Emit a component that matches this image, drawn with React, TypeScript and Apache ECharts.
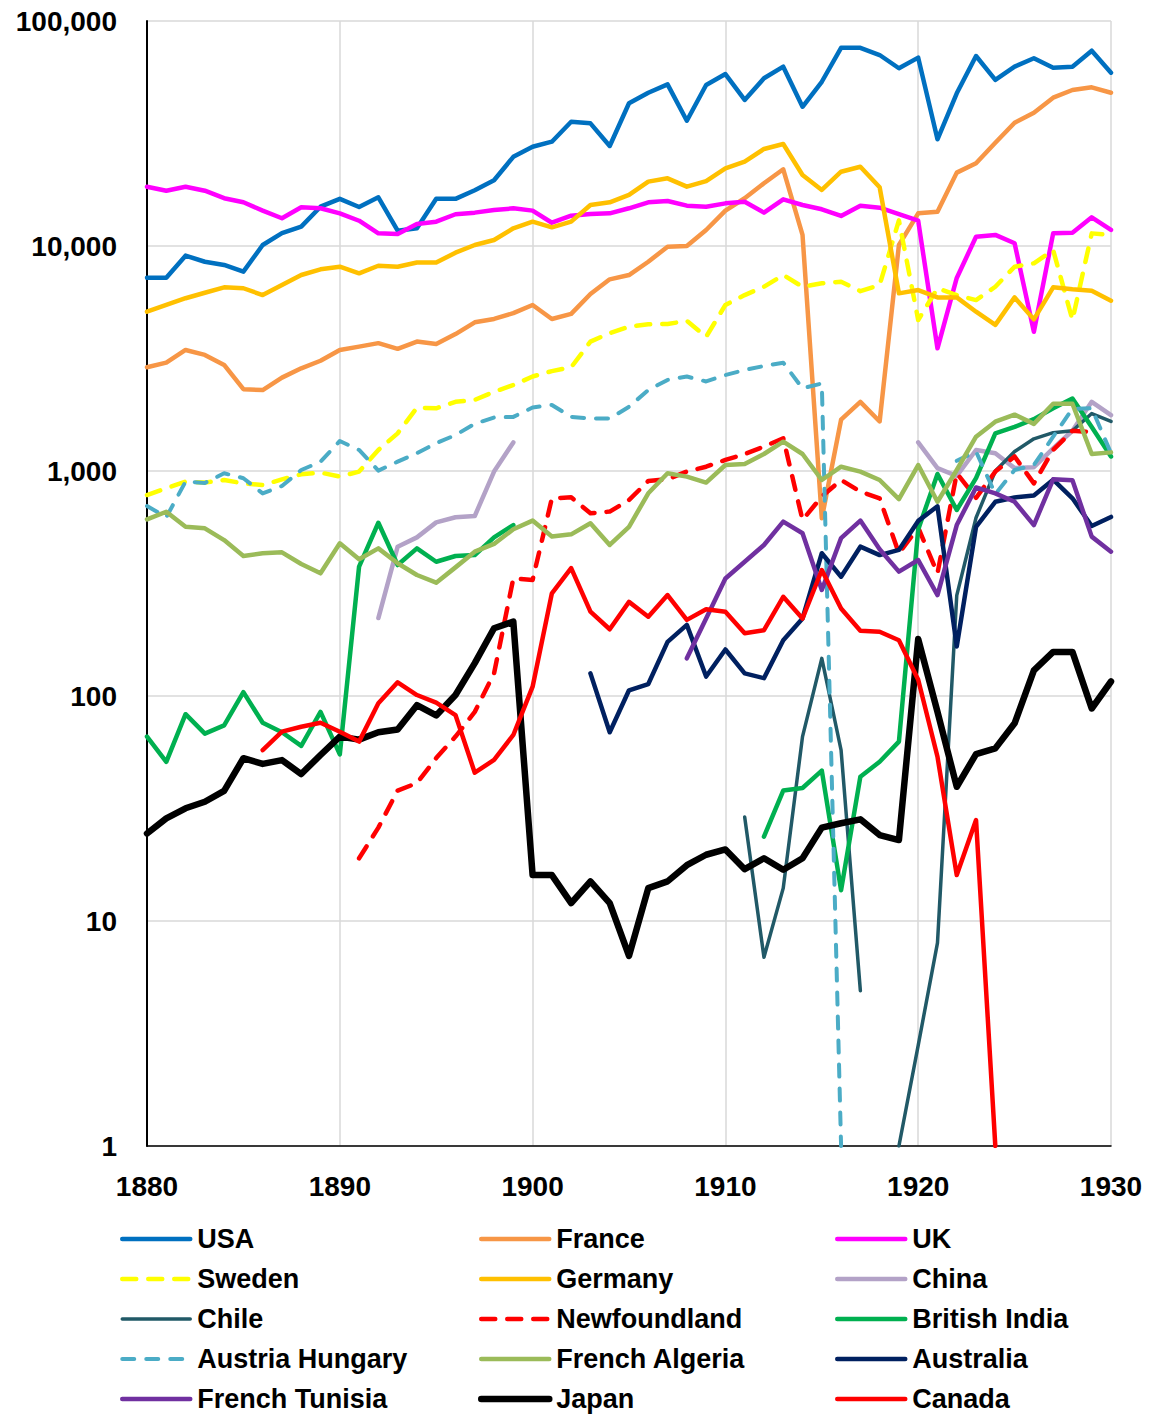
import React, { useEffect, useRef } from "react";
import * as echarts from "echarts";

// Years 1880..1930
const YEARS = [
  1880, 1881, 1882, 1883, 1884, 1885, 1886, 1887, 1888, 1889,
  1890, 1891, 1892, 1893, 1894, 1895, 1896, 1897, 1898, 1899,
  1900, 1901, 1902, 1903, 1904, 1905, 1906, 1907, 1908, 1909,
  1910, 1911, 1912, 1913, 1914, 1915, 1916, 1917, 1918, 1919,
  1920, 1921, 1922, 1923, 1924, 1925, 1926, 1927, 1928, 1929,
  1930,
];

const X_TICKS = [1880, 1890, 1900, 1910, 1920, 1930];
const Y_TICKS = [1, 10, 100, 1000, 10000, 100000];

const USA = [
  7230, 7230, 9060, 8510, 8240, 7690, 10100, 11400, 12200, 14950,
  16200, 14900, 16450, 11700, 12000, 16200, 16200, 17700, 19600, 24900,
  27600, 29080, 35650, 35080, 27830, 43080, 47990, 52300, 36030, 51960,
  58100, 44570, 55640, 62670, 41580, 53700, 76000, 76000, 70600, 61660,
  68730, 29800, 47730, 69880, 54700, 62670, 68300, 61970, 62670, 73800,
  58920,
];
const FRANCE = [
  2890, 3030, 3450, 3280, 2960, 2310, 2290, 2600, 2860, 3090,
  3450, 3570, 3700, 3490, 3760, 3670, 4060, 4580, 4740, 5030,
  5470, 4740, 4990, 6120, 7110, 7430, 8510, 9930, 10000, 11780,
  14360, 16300, 19000, 21930, 11200, 616, 1690, 2030, 1660, 10100,
  13970, 14200, 21190, 23330, 28770, 35320, 39120, 45620, 49360, 50720,
  47990,
];
const UK = [
  18350, 17610, 18350, 17610, 16310, 15640, 14360, 13280, 14860, 14710,
  13970, 12950, 11380, 11300, 12530, 12830, 13840, 14070, 14450, 14700,
  14360, 12690, 13640, 13870, 13970, 14710, 15640, 15850, 15110, 14950,
  15470, 15730, 14070, 16130, 15210, 14560, 13600, 15110, 14800, 13870,
  12950, 3510, 7210, 10990, 11200, 10280, 4160, 11380, 11460, 13410,
  11780,
];
const SWEDEN = [
  782, 838, 897, 888, 912, 881, 866, 918, 967, 984,
  944, 994, 1240, 1470, 1910, 1900, 2030, 2070, 2250, 2410,
  2630, 2780, 2890, 3760, 4100, 4380, 4490, 4500, 4650, 3950,
  5470, 6050, 6590, 7430, 6590, 6830, 6940, 6300, 6710, 13000,
  4690, 6490, 6050, 5750, 6590, 8090, 8380, 9590, 4690, 11380,
  11200,
];
const GERMANY = [
  5105, 5470, 5860, 6200, 6550, 6490, 6050, 6710, 7430, 7880,
  8090, 7560, 8170, 8090, 8440, 8440, 9340, 10100, 10630, 11990,
  12830, 12110, 12830, 15210, 15640, 16860, 19320, 19990, 18350, 19440,
  22140, 23710, 26990, 28390, 20690, 17740, 21390, 22510, 18240, 6160,
  6370, 5910, 5910, 5105, 4460, 5910, 4720, 6550, 6420, 6330,
  5710,
];
const CHINA = [
  null, null, null, null, null, null, null, null, null, null,
  null, null, 222, 461, 507, 591, 623, 631, 994, 1340,
  null, null, null, null, null, null, null, null, null, null,
  null, null, null, null, null, null, null, null, null, null,
  1340, 1030, 950, 1240, 1200, 1030, 1040, 1260, 1510, 2030,
  1770,
];
const CHILE = [
  null, null, null, null, null, null, null, null, null, null,
  null, null, null, null, null, null, null, null, null, null,
  null, null, null, null, null, null, null, null, null, null,
  null, 29, 6.9, 14, 66, 147, 57.5, 4.9, null, 1,
  2.8, 8, 280, 620, 1000, 1220, 1390, 1480, 1510, 1800,
  1660,
];
const NEWFOUNDLAND = [
  null, null, null, null, null, null, null, null, null, null,
  null, 19, 26, 38, 41, 53, 66, 85, 126, 333,
  328, 756, 764, 649, 660, 743, 903, 919, 994, 1045,
  1120, 1190, 1283, 1398, 606, 770, 912, 810, 756, 431,
  560, 351, 977, 760, 994, 1160, 881, 1240, 1510, 1490,
  null,
];
const BRITISH_INDIA = [
  66, 51, 83, 68, 74, 104, 76, 69, 60, 85,
  55, 376, 589, 382, 453, 395, 419, 423, 507, 575,
  null, null, null, null, null, null, null, null, null, null,
  null, null, 23.7, 38, 39, 46.6, 13.7, 43.8, 51, 62.7,
  550, 970, 671, 930, 1470, 1570, 1700, 1900, 2100, 1570,
  1160,
];
const AUSTRIA_HUNGARY = [
  699, 623, 897, 885, 977, 929, 795, 858, 1010, 1100,
  1360, 1240, 1004, 1100, 1200, 1330, 1445, 1620, 1730, 1740,
  1915, 1965, 1740, 1710, 1710, 1930, 2290, 2540, 2630, 2500,
  2670, 2810, 2930, 3030, 2330, 2450, 1, null, null, null,
  null, null, 1110, 1220, 790, 1010, 1063, 1420, 1890, 1900,
  1200,
];
const FRENCH_ALGERIA = [
  610, 659, 565, 556, 493, 419, 431, 435, 386, 351,
  477, 405, 453, 389, 345, 319, 373, 438, 474, 551,
  602, 511, 523, 586, 469, 565, 796, 977, 944, 888,
  1063, 1074, 1190, 1350, 1190, 912, 1045, 994, 912, 750,
  1063, 730, 1010, 1420, 1656, 1780, 1620, 1990, 1990, 1190,
  1210,
];
const AUSTRALIA = [
  null, null, null, null, null, null, null, null, null, null,
  null, null, null, null, null, null, null, null, null, null,
  null, null, null, 126, 69, 106, 113, 174, 207, 122,
  161, 126, 120, 177, 221, 431, 339, 461, 423, 446,
  600, 697, 166, 565, 730, 763, 778, 915, 756, 570,
  625,
];
const FRENCH_TUNISIA = [
  null, null, null, null, null, null, null, null, null, null,
  null, null, null, null, null, null, null, null, null, null,
  null, null, null, null, null, null, null, null, 147, 221,
  333, 395, 469, 596, 529, 296, 503, 602, 449, 357,
  402, 281, 575, 845, 795, 730, 575, 919, 909, 511,
  438,
];
const JAPAN = [
  24.5, 28.6, 31.7, 33.9, 37.9, 52.9, 49.9, 51.9, 45, 54.7,
  66, 64, 69, 71, 91, 82, 101, 140, 200, 214,
  16, 16, 12, 15, 12, 7, 14, 15, 17.7, 19.7,
  20.8, 17, 19, 16.9, 19, 26, 27.2, 28.3, 24.1, 22.9,
  179, 85, 39.5, 55.2, 58.5, 75.6, 130, 157, 157, 88,
  116,
];
const CANADA = [
  null, null, null, null, null, null, 57.5, 69.4, 73, 76,
  69.4, 62.7, 92.8, 115, 101, 93.4, 82.3, 45.6, 52, 67.1,
  110, 286, 370, 237, 198, 262, 225, 281, 218, 243,
  237, 190, 196, 276, 221, 363, 245, 195, 193, 177,
  118, 53.7, 16, 28.1, 1, null, null, null, null, null,
  null,
];

const SERIES_DEFS = [
  { name: "USA", values: USA, color: "#0070C0", width: 4.5, dash: null },
  { name: "France", values: FRANCE, color: "#F79646", width: 4.5, dash: null },
  { name: "UK", values: UK, color: "#FF00FF", width: 4.5, dash: null },
  { name: "Sweden", values: SWEDEN, color: "#FFFF00", width: 4.5, dash: [14, 12] },
  { name: "Germany", values: GERMANY, color: "#FFC000", width: 4.5, dash: null },
  { name: "China", values: CHINA, color: "#B3A2C7", width: 4.5, dash: null },
  { name: "Chile", values: CHILE, color: "#215967", width: 3.5, dash: null },
  { name: "Newfoundland", values: NEWFOUNDLAND, color: "#FF0000", width: 4.5, dash: [14, 12] },
  { name: "British India", values: BRITISH_INDIA, color: "#00B050", width: 4.5, dash: null },
  { name: "Austria Hungary", values: AUSTRIA_HUNGARY, color: "#4BACC6", width: 4, dash: [12, 12] },
  { name: "French Algeria", values: FRENCH_ALGERIA, color: "#9BBB59", width: 4.5, dash: null },
  { name: "Australia", values: AUSTRALIA, color: "#002060", width: 4.5, dash: null },
  { name: "French Tunisia", values: FRENCH_TUNISIA, color: "#7030A0", width: 4.5, dash: null },
  { name: "Japan", values: JAPAN, color: "#000000", width: 6.5, dash: null },
  { name: "Canada", values: CANADA, color: "#FF0000", width: 4.5, dash: null },
];

const LEGEND_COLUMNS = [
  ["USA", "Sweden", "Chile", "Austria Hungary", "French Tunisia"],
  ["France", "Germany", "Newfoundland", "French Algeria", "Japan"],
  ["UK", "China", "British India", "Australia", "Canada"],
];

const FONT = "'Liberation Sans', Arial, sans-serif";

export default function App() {
  const ref = useRef<HTMLDivElement>(null);

  useEffect(() => {
    document.body.style.margin = "0";
    if (!ref.current) return;
    const chart = echarts.init(ref.current, null, { renderer: "svg" });

    const series = SERIES_DEFS.map((s) => ({
      name: s.name,
      type: "line",
      symbol: "none",
      showSymbol: false,
      connectNulls: false,
      clip: true,
      emphasis: { disabled: true },
      data: YEARS.map((yr, i) => [yr, s.values[i] == null ? "-" : s.values[i]]),
      lineStyle: {
        color: s.color,
        width: s.width,
        type: s.dash ? s.dash : "solid",
        cap: "round",
        join: "round",
      },
      itemStyle: { color: s.color },
    }));

    const legendLefts = [120, 478, 835];
    const legends = LEGEND_COLUMNS.map((col, ci) => ({
      show: true,
      orient: "vertical",
      left: legendLefts[ci],
      top: 1224,
      itemWidth: 68,
      itemHeight: 14,
      itemGap: 10,
      padding: 0,
      selectedMode: false,
      data: col,
      textStyle: {
        fontFamily: FONT,
        fontWeight: "bold",
        fontSize: 27,
        color: "#000",
        lineHeight: 30,
        padding: [0, 0, 0, 2],
      },
      itemStyle: { opacity: 0, borderWidth: 0 },
      lineStyle: { width: "inherit", type: "inherit", cap: "inherit", opacity: 1 },
    }));

    chart.setOption({
      animation: false,
      backgroundColor: "#ffffff",
      grid: { left: 147, right: 39, top: 21, bottom: 270, containLabel: false },
      legend: legends,
      xAxis: {
        type: "value",
        min: 1880,
        max: 1930,
        interval: 10,
        axisLine: { show: true, onZero: false, lineStyle: { color: "#000", width: 1.5 } },
        axisTick: { show: false },
        splitLine: { show: true, lineStyle: { color: "#D9D9D9", width: 1.5 } },
        axisLabel: {
          margin: 26,
          fontFamily: FONT,
          fontWeight: "bold",
          fontSize: 28,
          color: "#000",
          formatter: (v: number) => (X_TICKS.includes(Math.round(v)) ? String(Math.round(v)) : ""),
        },
      },
      yAxis: {
        type: "log",
        logBase: 10,
        min: Y_TICKS[0],
        max: Y_TICKS[Y_TICKS.length - 1],
        axisLine: { show: true, lineStyle: { color: "#000", width: 2 } },
        axisTick: { show: false },
        splitLine: { show: true, lineStyle: { color: "#D9D9D9", width: 1.5 } },
        axisLabel: {
          margin: 30,
          fontFamily: FONT,
          fontWeight: "bold",
          fontSize: 28,
          color: "#000",
          formatter: (v: number) => Math.round(v).toLocaleString("en-US"),
        },
      },
      series,
    });

    return () => chart.dispose();
  }, []);

  return <div ref={ref} style={{ width: 1150, height: 1416 }} />;
}
